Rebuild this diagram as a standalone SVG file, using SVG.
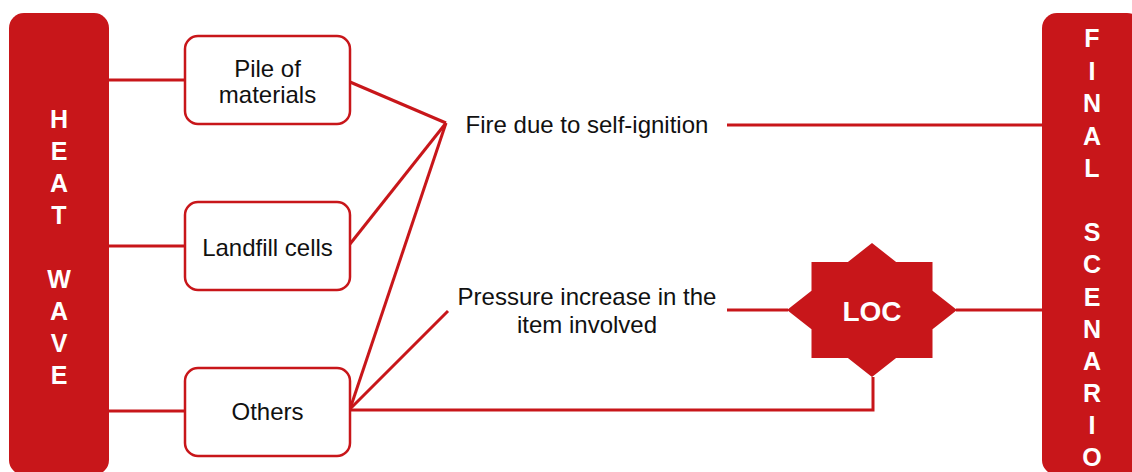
<svg xmlns="http://www.w3.org/2000/svg" width="1132" height="472" viewBox="0 0 1132 472">
<style>
.bar{fill:#C8161A}
.box{fill:#fff;stroke:#C8161A;stroke-width:2.5}
.t{font-family:"Liberation Sans",Arial,sans-serif;font-size:24px;fill:#111;text-anchor:middle}
.v{font-family:"Liberation Sans",Arial,sans-serif;font-size:25px;font-weight:bold;fill:#fff;text-anchor:middle}
.c{fill:none;stroke:#C8161A;stroke-width:3}
</style>
<rect width="1132" height="472" fill="#fff"/>
<g id="connectors">
<line class="c" x1="109" y1="80" x2="185" y2="80"/>
<line class="c" x1="109" y1="246" x2="185" y2="246"/>
<line class="c" x1="109" y1="411" x2="185" y2="411"/>
<line class="c" x1="350" y1="82" x2="446" y2="123"/>
<line class="c" x1="350" y1="244" x2="446" y2="123"/>
<line class="c" x1="350" y1="409" x2="446" y2="123"/>
<line class="c" x1="350" y1="409" x2="448" y2="311"/>
<polyline class="c" points="350,410 873,410 873,377"/>
<line class="c" x1="727" y1="125" x2="1042" y2="125"/>
<line class="c" x1="727" y1="310" x2="788" y2="310"/>
<line class="c" x1="956" y1="310" x2="1042" y2="310"/>
</g>
<g id="heat-wave">
<rect class="bar" x="9" y="13" width="100" height="462" rx="15"/>
<text class="v" x="59" y="128">H</text>
<text class="v" x="59" y="160">E</text>
<text class="v" x="59" y="192">A</text>
<text class="v" x="59" y="224">T</text>
<text class="v" x="59" y="288">W</text>
<text class="v" x="59" y="320">A</text>
<text class="v" x="59" y="352">V</text>
<text class="v" x="59" y="384">E</text>
</g>
<g id="final-scenario">
<rect class="bar" x="1042" y="13" width="100" height="462" rx="15"/>
<text class="v" x="1092" y="47">F</text>
<text class="v" x="1092" y="80">I</text>
<text class="v" x="1092" y="112">N</text>
<text class="v" x="1092" y="145">A</text>
<text class="v" x="1092" y="177">L</text>
<text class="v" x="1092" y="241">S</text>
<text class="v" x="1092" y="273">C</text>
<text class="v" x="1092" y="306">E</text>
<text class="v" x="1092" y="338">N</text>
<text class="v" x="1092" y="370">A</text>
<text class="v" x="1092" y="402">R</text>
<text class="v" x="1092" y="434">I</text>
<text class="v" x="1092" y="466">O</text>
</g>
<g id="pile">
<rect class="box" x="185" y="36" width="165" height="88" rx="13"/>
<text class="t" x="267.5" y="77">Pile of</text>
<text class="t" x="267.5" y="103">materials</text>
</g>
<g id="landfill">
<rect class="box" x="185" y="202" width="165" height="88" rx="13"/>
<text class="t" x="267.5" y="256">Landfill cells</text>
</g>
<g id="others">
<rect class="box" x="185" y="368" width="165" height="88" rx="13"/>
<text class="t" x="267.5" y="420">Others</text>
</g>
<g id="fire">
<text class="t" x="587" y="133">Fire due to self-ignition</text>
</g>
<g id="pressure">
<text class="t" x="587" y="305">Pressure increase in the</text>
<text class="t" x="587" y="333">item involved</text>
</g>
<g id="loc">
<polygon class="bar" points="872,243 896.1,262 932.5,262 932.5,290.7 957,310 932.5,329.3 932.5,358 896.1,358 872,377 847.9,358 811.5,358 811.5,329.3 787,310 811.5,290.7 811.5,262 847.9,262"/>
<text x="872" y="321" style="font-family:'Liberation Sans',Arial,sans-serif;font-size:28px;font-weight:bold;fill:#fff;text-anchor:middle">LOC</text>
</g>
</svg>
